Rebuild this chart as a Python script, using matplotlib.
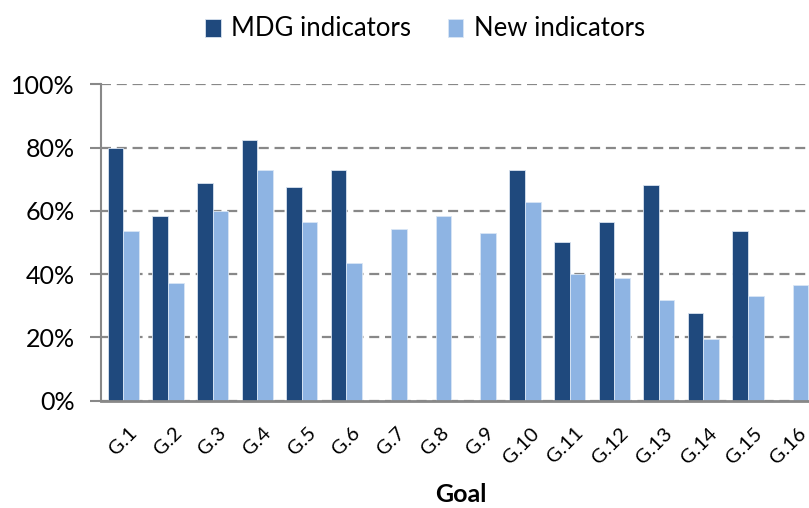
import matplotlib
matplotlib.use("Agg")
import matplotlib.pyplot as plt
import matplotlib.transforms as mtransforms
import numpy as np
from matplotlib.ticker import FuncFormatter

goals = ["G.1", "G.2", "G.3", "G.4", "G.5", "G.6", "G.7", "G.8",
         "G.9", "G.10", "G.11", "G.12", "G.13", "G.14", "G.15", "G.16"]
mdg = [80, 58.5, 68.7, 82.5, 67.4, 72.9, None, None, None, 72.9, 50.3, 56.5, 68.2, 27.6, 53.7, None]
new = [53.7, 37.3, 60, 72.9, 56.4, 43.4, 54.4, 58.5, 53.0, 62.7, 40.0, 38.7, 31.8, 19.5, 33.2, 36.6]

plt.rcParams['font.family'] = ['Lato', 'DejaVu Sans']

fig = plt.figure(figsize=(8.09, 5.08), dpi=100)
W, H = 809, 508
left, right, bottom, top = 101, 815, 400.7, 84.3
ax = fig.add_axes([left / W, 1 - bottom / H, (right - left) / W, (bottom - top) / H])

x = np.arange(len(goals))
bw = 0.35
mdg_v = np.array([np.nan if v is None else v for v in mdg], dtype=float)
new_v = np.array(new, dtype=float)
ax.bar(x - bw / 2, mdg_v, bw, color="#1F497D", edgecolor="#D9E3F0", linewidth=0.6,
       label="MDG indicators", zorder=3)
ax.bar(x + bw / 2, new_v, bw, color="#8EB4E3", edgecolor="#D9E6F5", linewidth=0.6,
       label="New indicators", zorder=3)

ax.set_xlim(-0.5, len(goals) - 0.5)
ax.set_ylim(0, 100)
ax.set_yticks(np.arange(0, 101, 20))
ax.yaxis.set_major_formatter(FuncFormatter(lambda v, p: f"{int(v)}%"))
ax.yaxis.grid(True, color="#888888", linestyle=(0, (4.5, 2.6)), linewidth=1.6, zorder=0)
ax.set_axisbelow(True)

for s in ["top", "right"]:
    ax.spines[s].set_visible(False)
ax.spines["left"].set_color("#888888")
ax.spines["left"].set_linewidth(1.5)
ax.spines["bottom"].set_color("#888888")
ax.spines["bottom"].set_linewidth(2)
ax.spines["bottom"].set_zorder(4)

ax.tick_params(axis="y", length=8, width=1.5, color="#888888", labelsize=18, pad=11)
ax.tick_params(axis="x", length=0, labelsize=14.5, pad=17)
ax.set_xticks(x)
ax.set_xticklabels(goals, rotation=45, ha="right", va="top", rotation_mode="anchor")
offset = mtransforms.ScaledTranslation(5 / 100, 0, fig.dpi_scale_trans)
for lab in ax.get_xticklabels():
    lab.set_transform(lab.get_transform() + offset)

fig.text(461 / W, 1 - 494 / H, "Goal", fontsize=18, fontweight="bold", ha="center", va="center")

fig.legend(loc="center", bbox_to_anchor=(425 / W, 1 - 29 / H), ncol=2, frameon=False,
           fontsize=18.5, handlelength=0.6, handleheight=0.7, columnspacing=1.45,
           handletextpad=0.4)

fig.savefig("out.png", dpi=100)
